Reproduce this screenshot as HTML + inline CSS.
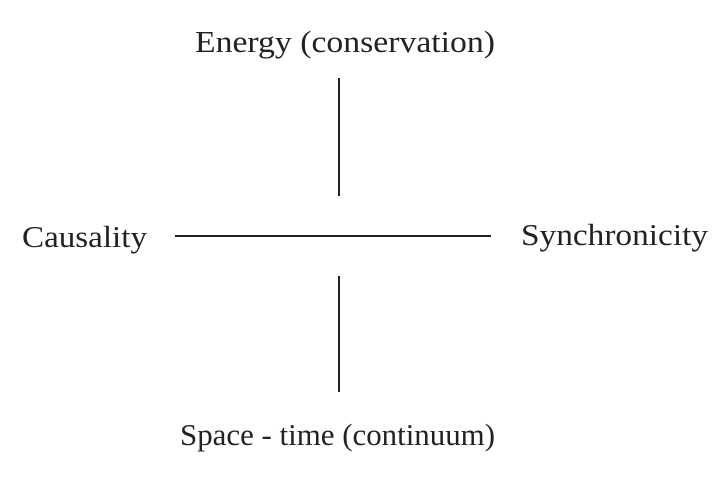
<!DOCTYPE html>
<html><head><meta charset="utf-8"><style>
html,body{margin:0;padding:0;background:#fff;}
svg{display:block;}
text{font-family:"Liberation Serif",serif;font-size:31px;fill:#222;}
</style></head><body>
<svg width="728" height="480" viewBox="0 0 728 480">
<text x="195" y="52" textLength="300" lengthAdjust="spacingAndGlyphs">Energy (conservation)</text>
<line x1="339" y1="78" x2="339" y2="196" stroke="#222" stroke-width="2"/>
<text x="22" y="247" textLength="125" lengthAdjust="spacingAndGlyphs">Causality</text>
<line x1="175" y1="236" x2="491" y2="236" stroke="#222" stroke-width="2"/>
<text x="521" y="245" textLength="187" lengthAdjust="spacingAndGlyphs">Synchronicity</text>
<line x1="339" y1="276" x2="339" y2="392" stroke="#222" stroke-width="2"/>
<text x="180" y="445" textLength="315" lengthAdjust="spacingAndGlyphs">Space - time (continuum)</text>
</svg>
</body></html>
